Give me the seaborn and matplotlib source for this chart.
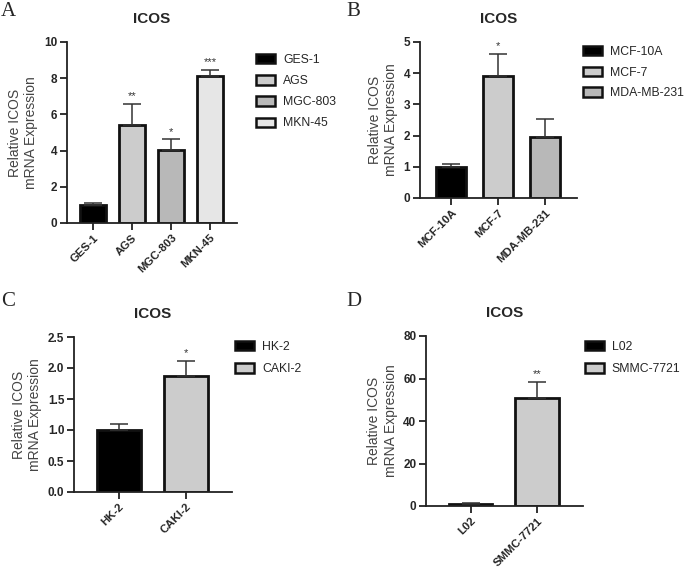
import matplotlib
matplotlib.use("Agg")
import matplotlib.pyplot as plt
import seaborn as sns
import pandas as pd
from matplotlib.patches import Patch

sns.set_style("ticks")
plt.rcParams['font.family'] = ['Liberation Sans', 'DejaVu Sans']

# Panel A
a_cats = ["GES-1", "AGS", "MGC-803", "MKN-45"]
a_vals = [1.0, 5.4, 4.05, 8.1]
a_errs = [0.08, 1.17, 0.57, 0.35]
a_stars = ["", "**", "*", "***"]
a_colors = ["#000000", "#cccccc", "#b8b8b8", "#e6e6e6"]
a_ticks = [0, 2, 4, 6, 8, 10]

# Panel B
b_cats = ["MCF-10A", "MCF-7", "MDA-MB-231"]
b_vals = [1.0, 3.9, 1.97]
b_errs = [0.1, 0.72, 0.56]
b_stars = ["", "*", ""]
b_colors = ["#000000", "#cccccc", "#b8b8b8"]
b_ticks = [0, 1, 2, 3, 4, 5]

# Panel C
c_cats = ["HK-2", "CAKI-2"]
c_vals = [1.0, 1.87]
c_errs = [0.09, 0.25]
c_stars = ["", "*"]
c_colors = ["#000000", "#cccccc"]
c_ticks = [0.0, 0.5, 1.0, 1.5, 2.0, 2.5]

# Panel D
d_cats = ["L02", "SMMC-7721"]
d_vals = [1.0, 51.0]
d_errs = [0.3, 7.5]
d_stars = ["", "**"]
d_colors = ["#000000", "#cccccc"]
d_ticks = [0, 20, 40, 60, 80]

W, H = 685, 569
fig = plt.figure(figsize=(W / 100, H / 100), dpi=100)


def rect(l, r, t, b):
    return [l / W, 1 - b / H, (r - l) / W, (b - t) / H]


def panel(box, cats, vals, errs, stars, colors, ticks, fmt, letter, letter_xy, leg_xy,
          spacing=0.75):
    ax = fig.add_axes(rect(*box))
    df = pd.DataFrame({"cat": cats, "val": vals})
    sns.barplot(data=df, x="cat", y="val", hue="cat", order=cats, hue_order=cats,
                palette=colors, edgecolor="#111111", linewidth=2.0, width=0.65,
                legend=False, ax=ax, errorbar=None)
    xs = list(range(len(cats)))
    ax.errorbar(xs, vals, yerr=[[0] * len(errs), errs], fmt="none",
                ecolor="#333333", elinewidth=1.1, capsize=6.5, capthick=1.1, zorder=1)
    ymax = ticks[-1]
    for x, v, e, s in zip(xs, vals, errs, stars):
        if s:
            ax.text(x, v + e + ymax * 0.015, s, ha="center", va="bottom",
                    fontsize=8, color="#333333")
    ax.set_xlim(-0.67, len(cats) - 1 + 0.69)
    ax.set_ylim(0, ymax)
    ax.set_yticks(ticks)
    ax.set_yticklabels([fmt.format(t) for t in ticks], fontsize=8.5, fontweight="bold")
    ax.set_xticks(xs)
    ax.set_xticklabels(cats, rotation=45, ha="right", rotation_mode="anchor",
                       fontsize=8.2, fontweight="bold")
    ax.set_xlabel("")
    ax.set_ylabel("Relative ICOS\nmRNA Expression", fontsize=10, color="#444444",
                  labelpad=4)
    ax.set_title("ICOS", fontsize=11, fontweight="bold", pad=14)
    for sp in ["top", "right"]:
        ax.spines[sp].set_visible(False)
    for sp in ["left", "bottom"]:
        ax.spines[sp].set_linewidth(1.3)
        ax.spines[sp].set_color("#222222")
    ax.tick_params(axis="both", width=1.3, length=5, color="#222222", pad=2)
    handles = [Patch(facecolor=c, edgecolor="#111111", linewidth=1.8, label=n)
               for c, n in zip(colors, cats)]
    fig.legend(handles=handles, loc="upper left",
               bbox_to_anchor=(leg_xy[0] / W, 1 - leg_xy[1] / H),
               frameon=False, fontsize=8.8, handlelength=1.55, handleheight=0.8,
               labelspacing=spacing, handletextpad=0.65, borderaxespad=0, borderpad=0)
    fig.text(letter_xy[0] / W, 1 - letter_xy[1] / H, letter, fontsize=15,
             family="Liberation Serif", ha="left", va="top")
    return ax


panel((67, 237, 42, 223), a_cats, a_vals, a_errs, a_stars, a_colors, a_ticks, "{:d}",
      "A", (1, 2), (256, 54))
panel((420, 577, 42, 198), b_cats, b_vals, b_errs, b_stars, b_colors, b_ticks, "{:d}",
      "B", (346, 2), (583, 46), spacing=0.7)
panel((74, 232, 337, 492), c_cats, c_vals, c_errs, c_stars, c_colors, c_ticks, "{:.1f}",
      "C", (1, 292), (235, 341), spacing=0.85)
panel((426, 583, 336, 506), d_cats, d_vals, d_errs, d_stars, d_colors, d_ticks, "{:d}",
      "D", (346, 292), (585, 341), spacing=0.85)

fig.savefig("out.png", dpi=100)
